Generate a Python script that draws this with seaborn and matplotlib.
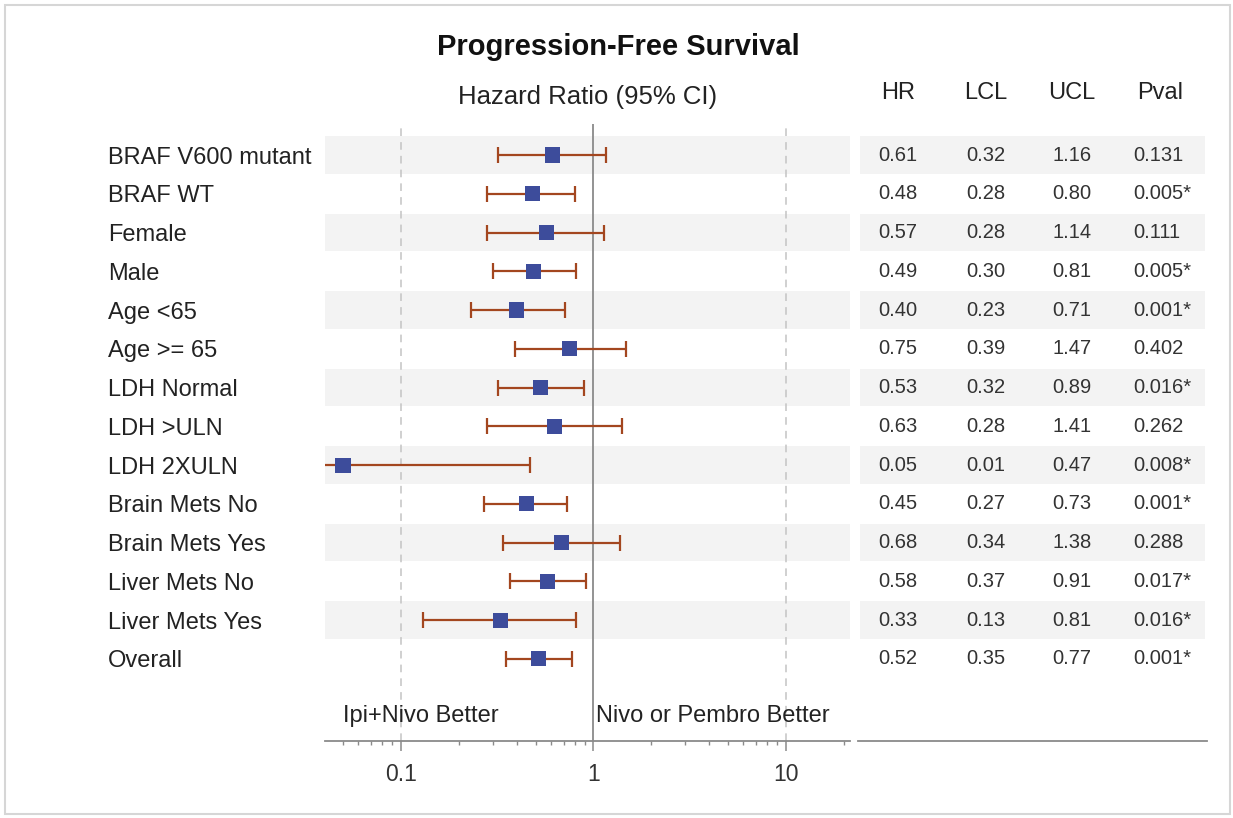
import numpy as np
import pandas as pd
import matplotlib
matplotlib.use("Agg")
import matplotlib.pyplot as plt
import matplotlib.ticker as mticker
from matplotlib.patches import Rectangle
import seaborn as sns

# ---- data ----
subgroups = ["BRAF V600 mutant", "BRAF WT", "Female", "Male", "Age <65", "Age >= 65",
             "LDH Normal", "LDH >ULN", "LDH 2XULN", "Brain Mets No", "Brain Mets Yes",
             "Liver Mets No", "Liver Mets Yes", "Overall"]
hr = [0.61, 0.48, 0.57, 0.49, 0.40, 0.75, 0.53, 0.63, 0.05, 0.45, 0.68, 0.58, 0.33, 0.52]
lcl = [0.32, 0.28, 0.28, 0.30, 0.23, 0.39, 0.32, 0.28, 0.01, 0.27, 0.34, 0.37, 0.13, 0.35]
ucl = [1.16, 0.80, 1.14, 0.81, 0.71, 1.47, 0.89, 1.41, 0.47, 0.73, 1.38, 0.91, 0.81, 0.77]
pval = ["0.131", "0.005*", "0.111", "0.005*", "0.001*", "0.402", "0.016*", "0.262",
        "0.008*", "0.001*", "0.288", "0.017*", "0.016*", "0.001*"]
xticks = [0.1, 1, 10]
xtick_labels = ["0.1", "1", "10"]

df = pd.DataFrame({"subgroup": subgroups, "hr": hr, "lcl": lcl, "ucl": ucl, "pval": pval})
df["row"] = np.arange(len(df))

# ---- style ----
sns.set_theme(style="white")
plt.rcParams["font.family"] = ["Liberation Sans", "DejaVu Sans"]

W, H = 1233, 818
fig = plt.figure(figsize=(W / 100, H / 100), dpi=100)
fig.patch.set_facecolor("white")


def px_rect(left, top, right, bottom):
    return [left / W, 1 - bottom / H, (right - left) / W, (bottom - top) / H]


BAND = "#f3f3f3"
AXIS_GRAY = "#8a8a8a"
TEXT = "#222222"
ylim = (15.12, -0.8)

# outer frame
fig.patches.append(Rectangle((5 / W, 1 - 814 / H), 1225 / W, 809 / H,
                             transform=fig.transFigure, fill=False,
                             edgecolor="#d6d6d6", linewidth=1.5, zorder=0))

# ---- forest panel ----
ax = fig.add_axes(px_rect(325, 124, 850, 741))
ax.set_facecolor("none")
ax.set_xscale("log")

for r in df["row"]:
    if r % 2 == 0:
        ax.axhspan(r - 0.48, r + 0.48, color=BAND, zorder=0, lw=0)

ax.axvline(0.1, color="#c4c4c4", lw=1.1, ls=(0, (5, 4)), zorder=1)
ax.axvline(10, color="#c4c4c4", lw=1.1, ls=(0, (5, 4)), zorder=1)
ax.axvline(1, color=AXIS_GRAY, lw=1.3, zorder=1)

ax.errorbar(df["hr"], df["row"], xerr=[df["hr"] - df["lcl"], df["ucl"] - df["hr"]],
            fmt="none", ecolor="#A3461F", elinewidth=1.6, capsize=5.6, capthick=1.6,
            zorder=3)
sns.scatterplot(data=df, x="hr", y="row", marker="s", s=118, color="#3D4C9B",
                edgecolor="none", linewidth=0, ax=ax, zorder=4, legend=False)

ax.set_xlim(0.0403, 21.5)
ax.set_ylim(*ylim)
ax.set_xlabel("")
ax.set_ylabel("")

ax.set_xticks(xticks)
ax.set_xticklabels(xtick_labels)
ax.xaxis.set_minor_locator(mticker.LogLocator(base=10, subs=np.arange(2, 10)))
ax.xaxis.set_minor_formatter(mticker.NullFormatter())
ax.tick_params(axis="x", which="major", bottom=True, length=7, width=1.1,
               color=AXIS_GRAY, labelsize=16.5, labelcolor="#333333", pad=8.5)
ax.tick_params(axis="x", which="minor", bottom=True, length=3.0, width=1.0,
               color=AXIS_GRAY)

ax.set_yticks(df["row"])
ax.set_yticklabels(df["subgroup"], ha="left", fontsize=17, color=TEXT)
ax.tick_params(axis="y", length=0, pad=156.2)

for side in ["top", "left", "right"]:
    ax.spines[side].set_visible(False)
ax.spines["bottom"].set_color(AXIS_GRAY)
ax.spines["bottom"].set_linewidth(1.3)

ax.text(0.5, -1.5, "Hazard Ratio (95% CI)", transform=ax.get_yaxis_transform(),
        ha="center", va="center", fontsize=18.5, color=TEXT, clip_on=False)
ax.text(0.034, 14.48, "Ipi+Nivo Better", transform=ax.get_yaxis_transform(),
        ha="left", va="center", fontsize=17, color=TEXT)
ax.text(1.025, 14.48, "Nivo or Pembro Better", ha="left", va="center",
        fontsize=17, color=TEXT)

# ---- statistics table ----
axt = fig.add_axes(px_rect(858, 124, 1207, 741))
axt.set_facecolor("none")
axt.set_xlim(858, 1207)
axt.set_ylim(*ylim)
for r in df["row"]:
    if r % 2 == 0:
        axt.axhspan(r - 0.48, r + 0.48, xmin=2 / 349, xmax=347 / 349,
                    color=BAND, zorder=0, lw=0)

columns = [("HR", 898), ("LCL", 986), ("UCL", 1072), ("Pval", 1160)]
for head, xc in columns:
    axt.text(xc, -1.6, head, ha="center", va="center", fontsize=17, color=TEXT,
             clip_on=False)

for _, rowdata in df.iterrows():
    r = rowdata["row"]
    axt.text(898, r, f"{rowdata['hr']:.2f}", ha="center", va="center",
             fontsize=14.5, color="#333333")
    axt.text(986, r, f"{rowdata['lcl']:.2f}", ha="center", va="center",
             fontsize=14.5, color="#333333")
    axt.text(1072, r, f"{rowdata['ucl']:.2f}", ha="center", va="center",
             fontsize=14.5, color="#333333")
    axt.text(1133, r, rowdata["pval"], ha="left", va="center",
             fontsize=14.5, color="#333333")

axt.set_xticks([])
axt.set_yticks([])
for side in ["top", "left", "right"]:
    axt.spines[side].set_visible(False)
axt.spines["bottom"].set_color(AXIS_GRAY)
axt.spines["bottom"].set_linewidth(1.3)

# ---- title ----
fig.text(618 / W, 1 - 47 / H, "Progression-Free Survival", ha="center", va="center",
         fontsize=21, fontweight="bold", color="#111111")

fig.savefig("out.png", dpi=100)
